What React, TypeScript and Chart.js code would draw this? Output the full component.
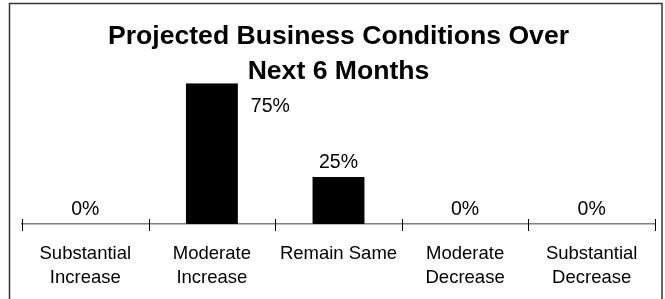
import React, { useEffect, useRef } from "react";
import { Chart, registerables } from "chart.js";

Chart.register(...registerables);

const titleLines = ["Projected Business Conditions Over", "Next 6 Months"];
const categories: string[][] = [
  ["Substantial", "Increase"],
  ["Moderate", "Increase"],
  ["Remain Same"],
  ["Moderate", "Decrease"],
  ["Substantial", "Decrease"],
];
const values = [0, 75, 25, 0, 0];
const yMax = 75;

const FONT = '"Liberation Sans", Arial, Helvetica, sans-serif';

const framePlugin = {
  id: "frame",
  beforeDraw(chart: any) {
    const ctx = chart.ctx;
    ctx.save();
    ctx.fillStyle = "#ffffff";
    ctx.fillRect(0, 0, chart.width, chart.height);
    ctx.strokeStyle = "#333333";
    ctx.lineWidth = 1.5;
    ctx.strokeRect(9.5, 3.5, 652.5, 320);
    ctx.restore();
  },
};

const ticksPlugin = {
  id: "crossTicks",
  afterDraw(chart: any) {
    const ctx = chart.ctx;
    const area = chart.chartArea;
    const n = categories.length;
    const step = (area.right - area.left) / n;
    ctx.save();
    ctx.strokeStyle = "#000000";
    ctx.lineWidth = 1;
    for (let i = 0; i <= n; i++) {
      const px = Math.round(area.left + i * step) + 0.5;
      ctx.beginPath();
      ctx.moveTo(px, area.bottom - 5);
      ctx.lineTo(px, area.bottom + 7);
      ctx.stroke();
    }
    ctx.restore();
  },
};

const labelPlugin = {
  id: "valueLabels",
  afterDatasetsDraw(chart: any) {
    const ctx = chart.ctx;
    const meta = chart.getDatasetMeta(0);
    const area = chart.chartArea;
    ctx.save();
    ctx.font = `19.5px ${FONT}`;
    ctx.fillStyle = "#000000";
    ctx.textBaseline = "middle";
    meta.data.forEach((bar: any, i: number) => {
      const text = `${values[i]}%`;
      const half = bar.width / 2;
      if (bar.y - 28 < area.top) {
        ctx.textAlign = "left";
        ctx.fillText(text, bar.x + half + 13, bar.y + 23);
      } else {
        ctx.textAlign = "center";
        ctx.fillText(text, bar.x, bar.y - 14);
      }
    });
    ctx.restore();
  },
};

export default function App() {
  const ref = useRef<HTMLCanvasElement | null>(null);

  useEffect(() => {
    const prevMargin = document.body.style.margin;
    document.body.style.margin = "0";
    if (!ref.current) return;
    const chart = new Chart(ref.current, {
      type: "bar",
      data: {
        labels: categories,
        datasets: [
          {
            data: values,
            backgroundColor: "#000000",
            borderWidth: 0,
            barPercentage: 0.5,
            categoryPercentage: 0.82,
          },
        ],
      },
      options: {
        responsive: false,
        animation: false,
        devicePixelRatio: 1,
        layout: { padding: { top: 19.5, left: 22, right: 10, bottom: -9 } },
        plugins: {
          legend: { display: false },
          tooltip: { enabled: false },
          title: {
            display: true,
            text: titleLines,
            color: "#000000",
            font: { family: FONT, size: 26.6, weight: "bold", lineHeight: 1.3 },
            padding: { top: 0, bottom: -5.5 },
          },
        },
        scales: {
          x: {
            grid: { display: false, drawTicks: false },
            border: { display: true, color: "#808080", width: 1.5 },
            ticks: {
              color: "#000000",
              font: { family: FONT, size: 18.5, lineHeight: 1.27 },
              padding: 18.5,
              maxRotation: 0,
              autoSkip: false,
            },
          },
          y: {
            display: false,
            min: 0,
            max: yMax,
          },
        },
      },
      plugins: [framePlugin, ticksPlugin, labelPlugin],
    });
    return () => {
      chart.destroy();
      document.body.style.margin = prevMargin;
    };
  }, []);

  return (
    <div style={{ width: 665, height: 299 }}>
      <canvas ref={ref} width={665} height={299} style={{ display: "block" }} />
    </div>
  );
}
